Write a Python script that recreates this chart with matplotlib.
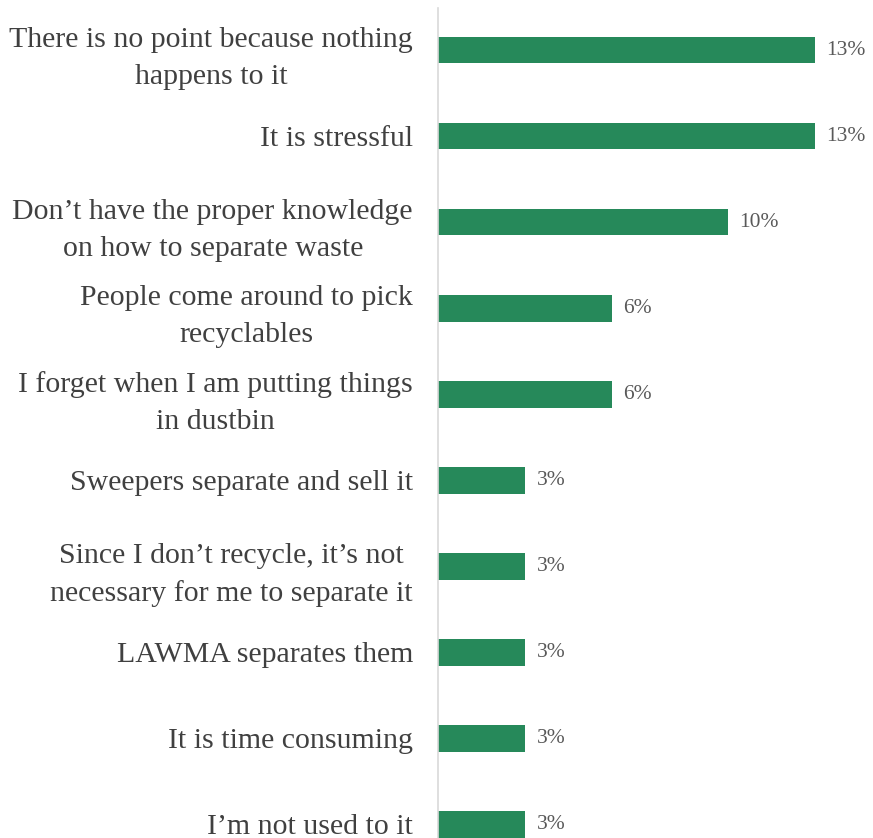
import matplotlib
matplotlib.use("Agg")
import matplotlib.pyplot as plt

categories = [
    "There is no point because nothing\nhappens to it",
    "It is stressful",
    "Don\u2019t have the proper knowledge\non how to separate waste",
    "People come around to pick\nrecyclables",
    "I forget when I am putting things\nin dustbin",
    "Sweepers separate and sell it",
    "Since I don\u2019t recycle, it\u2019s not\nnecessary for me to separate it",
    "LAWMA separates them",
    "It is time consuming",
    "I\u2019m not used to it",
]
values = [13, 13, 10, 6, 6, 3, 3, 3, 3, 3]
value_labels = ["13%", "13%", "10%", "6%", "6%", "3%", "3%", "3%", "3%", "3%"]

W, H = 873, 838
fig = plt.figure(figsize=(W / 100, H / 100), dpi=100)
ax = fig.add_axes([438 / W, 0, 435 / W, 830 / H])

pos = list(range(len(categories)))
ax.barh(pos, values, height=0.31, color="#26895a")

ax.set_xlim(0, 15)
ax.set_ylim(9.16, -0.49)

for y, v, lab in zip(pos, values, value_labels):
    ax.text(v + 0.4, y, lab, va="center", ha="left",
            family="Liberation Serif", fontsize=15.5, color="#595959")

ax.set_yticks(pos)
ax.set_yticklabels(categories, family="Liberation Serif", fontsize=21.5,
                   color="#404040", multialignment="center", linespacing=1.55)
ax.tick_params(axis="y", length=0, pad=18)
ax.set_xticks([])

for side in ("top", "right", "bottom"):
    ax.spines[side].set_visible(False)
ax.spines["left"].set_color("#d9d9d9")
ax.spines["left"].set_linewidth(1.2)

fig.savefig("out.png", dpi=100)
